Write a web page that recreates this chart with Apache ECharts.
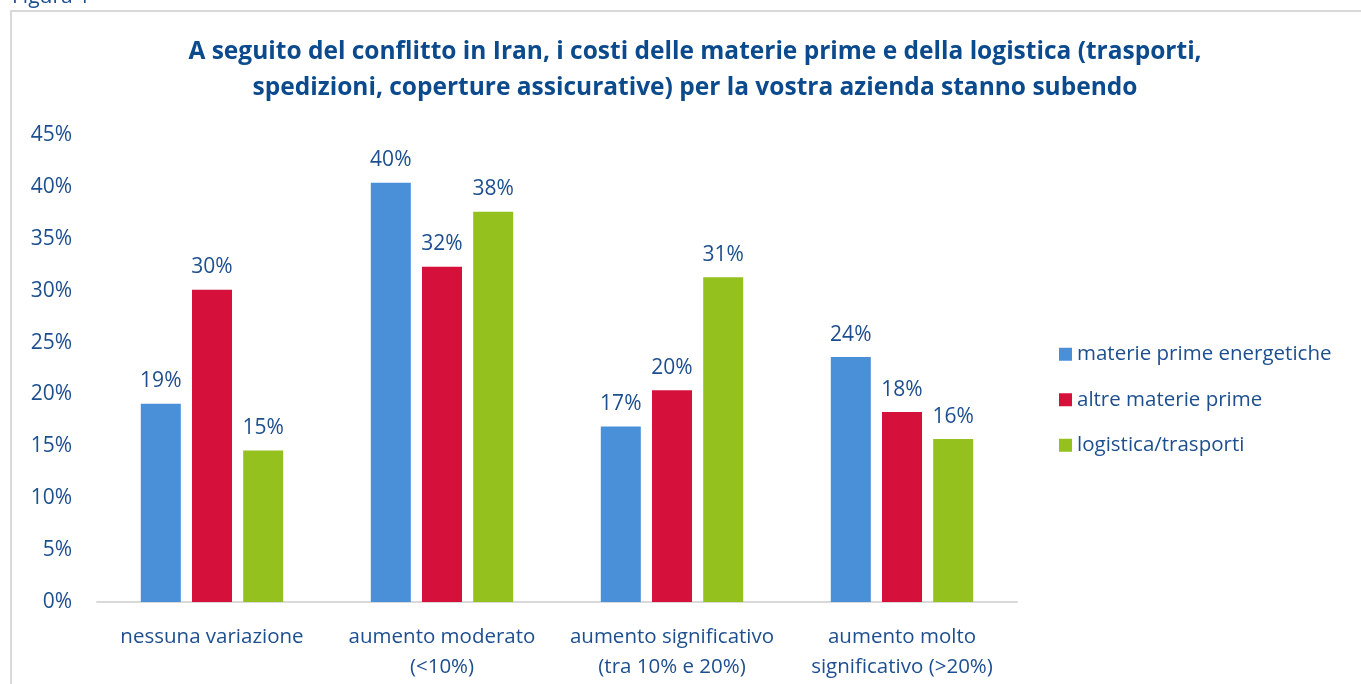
<!DOCTYPE html>
<html>
<head>
<meta charset="utf-8">
<title>Figura 1</title>
<script src="https://cdn.jsdelivr.net/npm/echarts@6/dist/echarts.min.js"></script>
<style>
  html, body { margin: 0; padding: 0; background: #fff; }
  #chart { width: 1361px; height: 684px; }
</style>
</head>
<body>
<div id="chart"></div>
<script>
// categories and series (percent values)
const categories = [
  'nessuna variazione',
  'aumento moderato\n(<10%)',
  'aumento significativo\n(tra 10% e 20%)',
  'aumento molto\nsignificativo (>20%)'
]
const seriesNames = ['materie prime energetiche', 'altre materie prime', 'logistica/trasporti']
const energetiche = [19.1, 40.4, 16.9, 23.6]
const altre = [30.1, 32.3, 20.4, 18.3]
const logistica = [14.6, 37.6, 31.3, 15.7]
const colors = ['#4a90d9', '#d5103b', '#95c11f']

const textColor = '#1d4f8f'
const font = 'Open Sans'

const chart = echarts.init(document.getElementById('chart'))

function barSeries(name, data, color) {
  return {
    name: name,
    type: 'bar',
    data: data,
    barWidth: 40,
    barGap: '28%',
    itemStyle: { color: color },
    label: {
      show: true,
      position: 'top',
      distance: 12,
      color: textColor,
      fontFamily: font,
      fontSize: 21,
      formatter: p => Math.round(p.value) + '%'
    },
    animation: false
  }
}

chart.setOption({
  animation: false,
  title: {
    text: 'A seguito del conflitto in Iran, i costi delle materie prime e della logistica (trasporti,\nspedizioni, coperture assicurative) per la vostra azienda stanno subendo',
    left: 690,
    textAlign: 'center',
    top: 29,
    textStyle: {
      color: '#0b4a8c',
      fontFamily: font,
      fontWeight: 'bold',
      fontSize: 24.5,
      lineHeight: 36
    }
  },
  graphic: [
    {
      type: 'rect',
      shape: { x: 11, y: 11, width: 1400, height: 700 },
      style: { fill: 'none', stroke: '#d9d9d9', lineWidth: 2 },
      z: -1
    },
    {
      type: 'text',
      left: 12,
      top: -13,
      style: { text: 'Figura 1', fill: textColor, font: '21px "Open Sans"' }
    }
  ],
  legend: {
    orient: 'vertical',
    left: 1059,
    top: 342,
    padding: 0,
    itemWidth: 13,
    itemHeight: 13,
    itemGap: 21,
    itemTextGap: 7,
    icon: 'rect',
    data: seriesNames,
    textStyle: { color: textColor, fontFamily: font, fontSize: 20.5, lineHeight: 24.5 }
  },
  grid: { left: 97, right: 344, top: 135, bottom: 82 },
  xAxis: {
    type: 'category',
    data: categories,
    axisLine: { lineStyle: { color: '#d9d9d9', width: 2 } },
    axisTick: { show: false },
    axisLabel: {
      interval: 0,
      color: textColor,
      fontFamily: font,
      fontSize: 20.5,
      lineHeight: 30,
      margin: 20
    }
  },
  yAxis: {
    type: 'value',
    min: 0,
    max: 45,
    interval: 5,
    splitLine: { show: false },
    axisLine: { show: false },
    axisTick: { show: false },
    axisLabel: {
      color: textColor,
      fontFamily: font,
      fontSize: 21,
      margin: 25,
      formatter: '{value}%'
    }
  },
  series: [
    barSeries(seriesNames[0], energetiche, colors[0]),
    barSeries(seriesNames[1], altre, colors[1]),
    barSeries(seriesNames[2], logistica, colors[2])
  ]
})
</script>
</body>
</html>
